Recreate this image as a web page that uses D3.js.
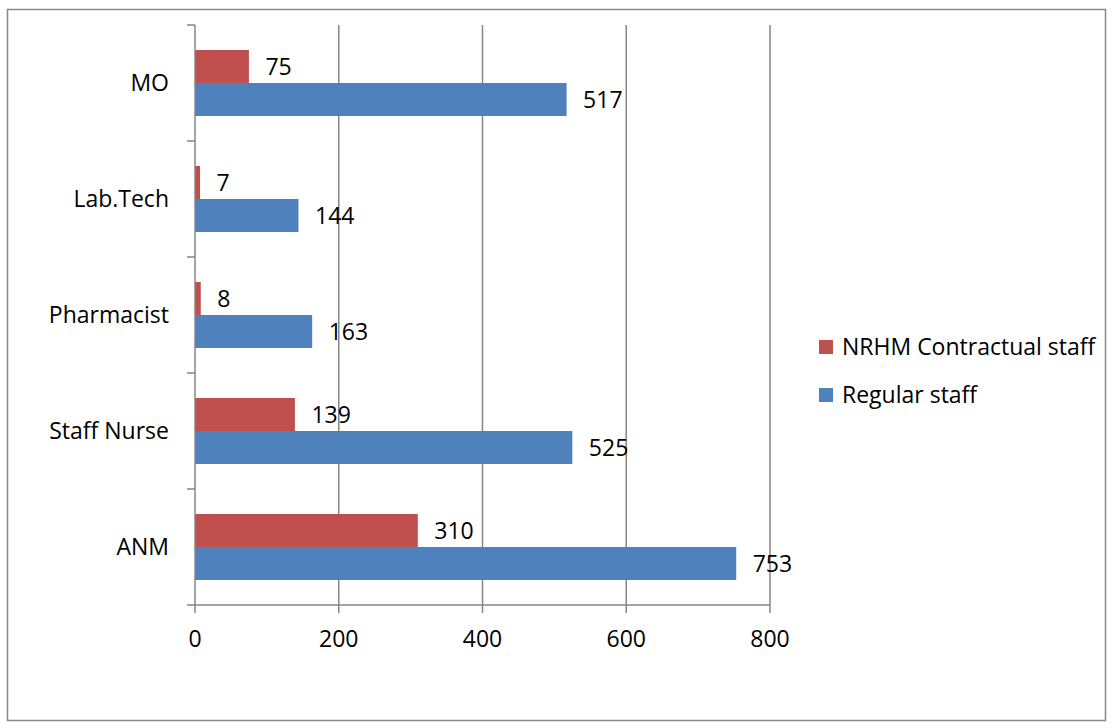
<!DOCTYPE html>
<html>
<head>
<meta charset="utf-8">
<script src="https://cdn.jsdelivr.net/npm/d3@7"></script>
<style>
  body { margin: 0; background: #fff; }
</style>
</head>
<body>
<div id="chart"></div>
<script>
// Chart data
const categories = ['MO', 'Lab.Tech', 'Pharmacist', 'Staff Nurse', 'ANM']
const seriesNames = ['NRHM Contractual staff', 'Regular staff']
const nrhmValues = [75, 7, 8, 139, 310]
const regularValues = [517, 144, 163, 525, 753]
const xTicks = [0, 200, 400, 600, 800]
const colours = ['#C0504D', '#4F81BD']

const width = 1112
const height = 728
const margin = {left: 195, top: 25, right: 342, bottom: 123}
const fontFamily = '"Open Sans", Lato, sans-serif'
const fontSize = 23

const svg = d3.select('#chart')
  .append('svg')
  .attr('width', width)
  .attr('height', height)
  .style('font-family', fontFamily)

// Outer chart frame
svg.append('rect')
  .attr('x', 7.5)
  .attr('y', 9.5)
  .attr('width', 1098)
  .attr('height', 711)
  .style('fill', '#fff')
  .style('stroke', '#888')
  .style('stroke-width', 1.5)

const plotW = width - margin.left - margin.right
const plotH = height - margin.top - margin.bottom

// Scales
const xScale = d3.scaleLinear().domain([0, 800]).range([0, plotW])
const yScale = d3.scaleBand().domain(categories).range([0, plotH]).padding(0)
const ySeries = d3.scaleBand()
  .domain(seriesNames)
  .range([0, yScale.bandwidth()])
  .paddingInner(0)
  .paddingOuter(0.758)

const g = svg.append('g')
  .attr('transform', `translate(${margin.left},${margin.top})`)

// Vertical gridlines
g.selectAll('.grid')
  .data(xTicks.filter(d => d > 0))
  .join('line')
  .attr('class', 'grid')
  .attr('x1', d => xScale(d))
  .attr('x2', d => xScale(d))
  .attr('y1', 0)
  .attr('y2', plotH)
  .style('stroke', '#868686')
  .style('stroke-width', 1.5)

// Bar data
const bars = []
categories.forEach((c, i) => {
  bars.push({cat: c, series: seriesNames[0], value: nrhmValues[i], fill: colours[0]})
  bars.push({cat: c, series: seriesNames[1], value: regularValues[i], fill: colours[1]})
})

g.selectAll('.bar')
  .data(bars)
  .join('rect')
  .attr('class', 'bar')
  .attr('x', 0)
  .attr('y', d => yScale(d.cat) + ySeries(d.series))
  .attr('width', d => xScale(d.value))
  .attr('height', ySeries.bandwidth())
  .style('fill', d => d.fill)

// Value labels
g.selectAll('.barLabel')
  .data(bars)
  .join('text')
  .attr('class', 'barLabel')
  .attr('x', d => xScale(d.value) + 16.5)
  .attr('y', d => yScale(d.cat) + ySeries(d.series) + ySeries.bandwidth() / 2)
  .attr('dy', '0.36em')
  .style('font-size', fontSize + 'px')
  .style('fill', '#000')
  .text(d => d.value)

// Left axis with ticks at band boundaries
const lAxis = g.append('g')
lAxis.append('line')
  .attr('x1', 0).attr('x2', 0)
  .attr('y1', 0).attr('y2', plotH)
  .style('stroke', '#868686')
  .style('stroke-width', 1.5)
lAxis.selectAll('.ytick')
  .data(d3.range(categories.length + 1))
  .join('line')
  .attr('class', 'ytick')
  .attr('x1', -8).attr('x2', 0)
  .attr('y1', i => i * yScale.step())
  .attr('y2', i => i * yScale.step())
  .style('stroke', '#868686')
  .style('stroke-width', 1.5)
lAxis.selectAll('.ylabel')
  .data(categories)
  .join('text')
  .attr('class', 'ylabel')
  .attr('x', -26)
  .attr('y', d => yScale(d) + yScale.bandwidth() / 2)
  .attr('dy', '0.36em')
  .style('text-anchor', 'end')
  .style('font-size', fontSize + 'px')
  .text(d => d)

// Bottom axis
const bAxis = g.append('g')
  .attr('transform', `translate(0,${plotH})`)
bAxis.append('line')
  .attr('x1', 0).attr('x2', plotW)
  .style('stroke', '#868686')
  .style('stroke-width', 1.5)
bAxis.selectAll('.xtick')
  .data(xTicks)
  .join('line')
  .attr('class', 'xtick')
  .attr('x1', d => xScale(d)).attr('x2', d => xScale(d))
  .attr('y1', 0).attr('y2', 8)
  .style('stroke', '#868686')
  .style('stroke-width', 1.5)
bAxis.selectAll('.xlabel')
  .data(xTicks)
  .join('text')
  .attr('class', 'xlabel')
  .attr('x', d => xScale(d))
  .attr('y', 34)
  .attr('dy', '0.36em')
  .style('text-anchor', 'middle')
  .style('font-size', fontSize + 'px')
  .text(d => d)

// Legend
const legend = svg.append('g')
  .attr('transform', 'translate(819,340)')
legend.selectAll('.legItem')
  .data(seriesNames)
  .join('g')
  .attr('class', 'legItem')
  .attr('transform', (d, i) => `translate(0,${i * 48})`)
  .each(function(d, i) {
    const item = d3.select(this)
    item.append('rect')
      .attr('width', 14)
      .attr('height', 14)
      .style('fill', colours[i])
    item.append('text')
      .attr('x', 23)
      .attr('y', 7)
      .attr('dy', '0.36em')
      .style('font-size', fontSize + 'px')
      .text(d)
  })
</script>
</body>
</html>
